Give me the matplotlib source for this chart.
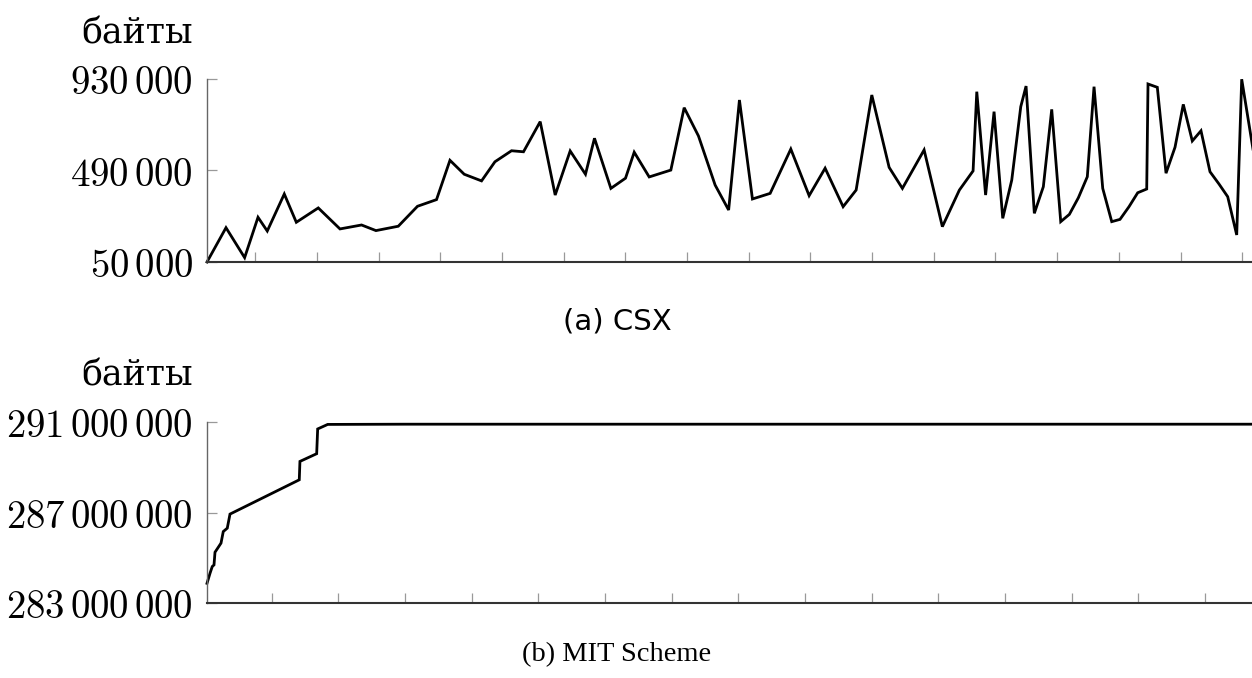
import matplotlib
matplotlib.use("Agg")
import matplotlib.pyplot as plt

plt.rcParams['mathtext.fontset'] = 'cm'

# (a) CSX: time (tick units) vs. memory in bytes
csx_x = [0.217, 0.525, 0.827, 1.044, 1.194, 1.470, 1.665, 2.021, 2.373, 2.723,
         2.956, 3.318, 3.630, 3.938, 4.156, 4.387, 4.668, 4.885, 5.154, 5.348,
         5.619, 5.862, 6.105, 6.353, 6.499, 6.765, 7.002, 7.143, 7.386, 7.737,
         7.953, 8.185, 8.455, 8.674, 8.849, 9.060, 9.347, 9.682, 9.979, 10.238,
         10.530, 10.741, 10.995, 11.276, 11.491, 11.843, 12.139, 12.415, 12.637, 12.697,
         12.840, 12.977, 13.118, 13.264, 13.410, 13.496, 13.630, 13.776, 13.912, 14.058,
         14.198, 14.344, 14.489, 14.598, 14.739, 14.885, 15.019, 15.165, 15.306, 15.452,
         15.473, 15.624, 15.765, 15.911, 16.045, 16.191, 16.332, 16.478, 16.624, 16.765,
         16.911, 16.992, 17.300]
csx_y = [50000, 215000, 71000, 265000, 199000, 377000, 241000, 310000, 209000, 228000,
         201000, 222000, 318000, 350000, 539000, 472000, 440000, 532000, 585000, 580000,
         725000, 372000, 584000, 472000, 645000, 404000, 453000, 578000, 459000, 492000,
         792000, 656000, 420000, 300000, 829000, 353000, 380000, 593000, 369000, 501000,
         316000, 396000, 853000, 505000, 404000, 589000, 220000, 396000, 488000, 869000,
         372000, 773000, 260000, 444000, 797000, 896000, 284000, 412000, 784000, 244000,
         279000, 359000, 460000, 893000, 404000, 244000, 255000, 316000, 383000, 401000,
         906000, 890000, 477000, 602000, 808000, 632000, 681000, 484000, 425000, 364000,
         180000, 929000, 363000]
csx_ticks = [50000, 490000, 930000]
csx_labels = [r'$50\,000$', r'$490\,000$', r'$930\,000$']

# (b) MIT Scheme
mit_x = [0.03, 0.075, 0.109, 0.135, 0.150, 0.240, 0.274, 0.334, 0.375, 1.414,
         1.424, 1.675, 1.690, 1.840, 3.0, 6.0, 10.0, 16.0]
mit_y = [283.88e6, 284.32e6, 284.62e6, 284.69e6, 285.25e6, 285.65e6, 286.16e6, 286.31e6,
         286.93e6, 288.44e6, 289.25e6, 289.59e6, 290.68e6, 290.88e6, 290.89e6, 290.89e6,
         290.89e6, 290.89e6]
mit_ticks = [283000000, 287000000, 291000000]
mit_labels = [r'$283\,000\,000$', r'$287\,000\,000$', r'$291\,000\,000$']

W, H = 1252, 678
fig = plt.figure(figsize=(W / 100, H / 100), dpi=100)


def setup(ax, xticks, yticks, ylabels, ylim, xlim):
    ax.set_xlim(*xlim)
    ax.set_ylim(*ylim)
    ax.set_xticks(xticks)
    ax.set_xticklabels([])
    ax.set_yticks(yticks)
    ax.set_yticklabels(ylabels, fontsize=28)
    ax.spines['top'].set_visible(False)
    ax.spines['right'].set_visible(False)
    ax.spines['left'].set_color('#666666')
    ax.spines['left'].set_linewidth(1.0)
    ax.spines['bottom'].set_color('#333333')
    ax.spines['bottom'].set_linewidth(1.5)
    ax.tick_params(axis='both', direction='in', length=7, width=0.9, color='#999999')
    ax.tick_params(axis='y', pad=10)
    ax.patch.set_visible(False)


# top panel: axes spans 207..1260.7 px horizontally, 79..262 px vertically
ax1 = fig.add_axes([207 / W, (H - 262) / H, (1260.7 - 207) / W, 183 / H])
ax1.plot(csx_x, csx_y, color='black', lw=2.0, solid_joinstyle='miter', clip_on=False)
setup(ax1, list(range(1, 18)), csx_ticks, csx_labels, (50000, 930000), (0.217, 17.3))

# bottom panel
ax2 = fig.add_axes([207 / W, (H - 603.3) / H, (1271.7 - 207) / W, 181.6 / H])
ax2.plot(mit_x, mit_y, color='black', lw=2.0, solid_joinstyle='miter', clip_on=False)
setup(ax2, list(range(1, 17)), mit_ticks, mit_labels, (283e6, 291e6), (0.03, 16.0))

serif = ['DejaVu Serif']
fig.text(193 / W, 1 - 43 / H, 'байты', ha='right', va='baseline', fontsize=25, family=serif)
fig.text(193 / W, 1 - 386 / H, 'байты', ha='right', va='baseline', fontsize=25, family=serif)
fig.text(617 / W, 1 - 322 / H, '(a) CSX', ha='center', va='center', fontsize=21,
         family=['DejaVu Sans'])
fig.text(617 / W, 1 - 655 / H, '(b) MIT Scheme', ha='center', va='center', fontsize=20.5,
         family=['Liberation Serif'])

fig.savefig('out.png', dpi=100)
